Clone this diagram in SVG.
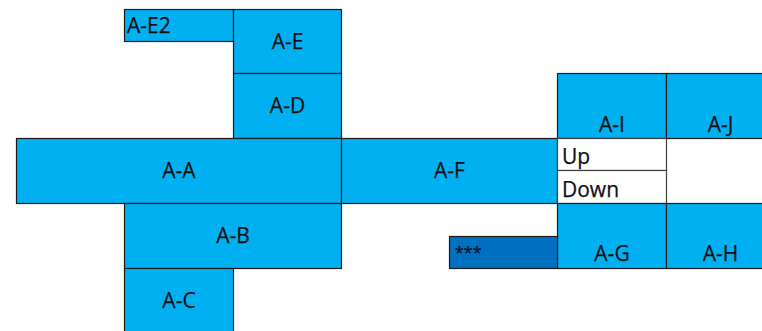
<svg xmlns="http://www.w3.org/2000/svg" width="762" height="331" viewBox="0 0 762 331">
<style>
.b{fill:#00B0F0;stroke:#1b1b1b;stroke-width:1.2}
.d{fill:#0070C0;stroke:#1b1b1b;stroke-width:1.2}
.w{fill:#ffffff;stroke:#404040;stroke-width:1.2}
text{font-family:"Open Sans","Noto Sans","DejaVu Sans",sans-serif;font-size:21px;fill:#111111;stroke:#111111;stroke-width:0.25}
.c{text-anchor:middle}
.s{font-size:16px}
</style>
<rect width="762" height="331" fill="#ffffff"/>
<g id="A-E2"><rect class="b" x="124.5" y="9.5" width="109" height="32"/><text x="127" y="33">A-E2</text></g>
<g id="A-E"><rect class="b" x="233.5" y="9.5" width="108" height="64"/><text class="c" x="287.5" y="49">A-E</text></g>
<g id="A-D"><rect class="b" x="233.5" y="73.5" width="108" height="65"/><text class="c" x="287.5" y="113">A-D</text></g>
<g id="A-A"><rect class="b" x="16.5" y="138.5" width="325" height="65"/><text class="c" x="179" y="178">A-A</text></g>
<g id="A-F"><rect class="b" x="341.5" y="138.5" width="216" height="65"/><text class="c" x="449.5" y="178">A-F</text></g>
<g id="A-B"><rect class="b" x="124.5" y="203.5" width="217" height="65"/><text class="c" x="233" y="243">A-B</text></g>
<g id="A-C"><rect class="b" x="124.5" y="268.5" width="109" height="70"/><text class="c" x="179" y="308">A-C</text></g>
<g id="A-I"><rect class="b" x="557.5" y="73.5" width="109" height="65"/><text class="c" x="612" y="132">A-I</text></g>
<g id="A-J"><rect class="b" x="666.5" y="73.5" width="110" height="65"/><text class="c" x="720.5" y="132">A-J</text></g>
<g id="Up"><rect class="w" x="557.5" y="138.5" width="109" height="32"/><text x="562" y="164">Up</text></g>
<g id="Down"><rect class="w" x="557.5" y="170.5" width="109" height="33"/><text x="562" y="197">Down</text></g>
<g id="A-G"><rect class="b" x="557.5" y="203.5" width="109" height="65"/><text class="c" x="612" y="261">A-G</text></g>
<g id="A-H"><rect class="b" x="666.5" y="203.5" width="110" height="65"/><text class="c" x="720.5" y="261">A-H</text></g>
<g id="stars"><rect class="d" x="449.5" y="236.5" width="108" height="32"/><text class="s" x="455" y="258">***</text></g>
<g id="connectors"></g>
</svg>
